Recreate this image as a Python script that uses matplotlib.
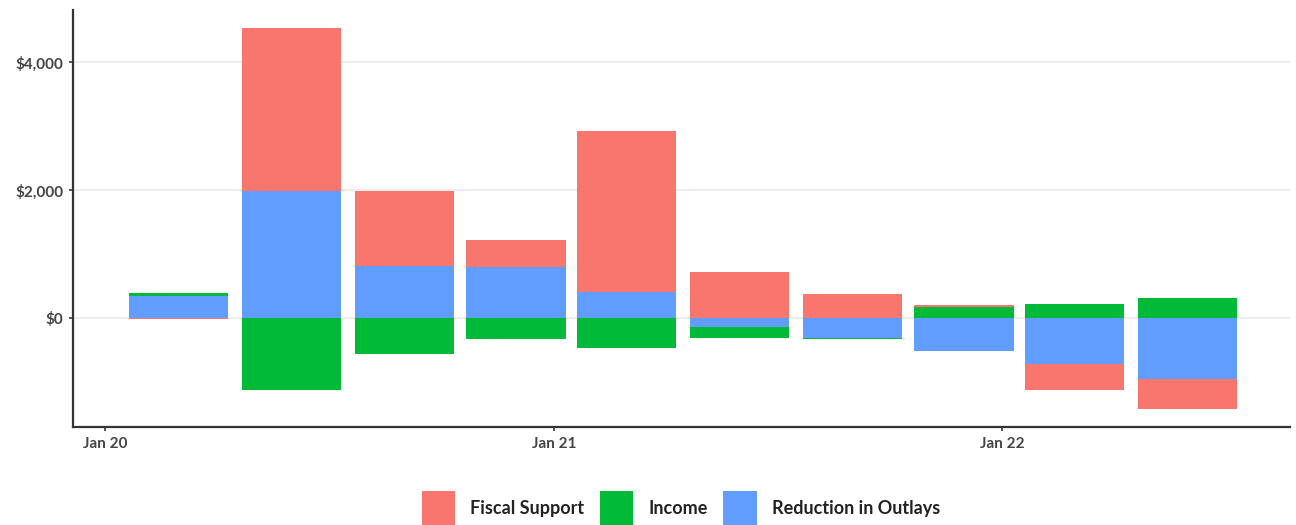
import pandas as pd
import matplotlib
matplotlib.use("Agg")
from matplotlib import pyplot as plt
import matplotlib.dates as mdates
from matplotlib.patches import Patch
from matplotlib.ticker import FuncFormatter

# quarterly bars (values in $ billions)
quarters = ["2020-03-01", "2020-06-01", "2020-09-01", "2020-12-01", "2021-03-01",
            "2021-06-01", "2021-09-01", "2021-12-01", "2022-03-01", "2022-06-01"]
fiscal_support = [-15, 2537, 1172, 417, 2516, 723, 380, 25, -406, -464]
income = [45, -1120, -558, -317, -469, -172, -30, 177, 223, 322]
reduction_outlays = [353, 1994, 822, 802, 411, -136, -300, -516, -714, -948]

series_names = ["Fiscal Support", "Income", "Reduction in Outlays"]
series_colors = ["#F8766D", "#00BA38", "#619CFF"]

df = pd.DataFrame({
    "Fiscal Support": fiscal_support,
    "Income": income,
    "Reduction in Outlays": reduction_outlays,
}, index=pd.to_datetime(quarters))

plt.rcParams['font.family'] = ['Lato', 'DejaVu Sans']

fig = plt.figure(figsize=(12.96, 5.25), dpi=100)
ax = fig.add_axes([0.0563, 0.1867, 0.9387, 0.7943])

x = mdates.date2num(df.index.to_pydatetime())
width = 81

# ggplot-like stacking: last level closest to zero, first level outermost
pos_base = [0.0] * len(df)
neg_base = [0.0] * len(df)
for name, color in zip(reversed(series_names), reversed(series_colors)):
    vals = df[name].tolist()
    bottoms = []
    for i, v in enumerate(vals):
        if v >= 0:
            bottoms.append(pos_base[i])
            pos_base[i] += v
        else:
            bottoms.append(neg_base[i])
            neg_base[i] += v
    ax.bar(x, vals, bottom=bottoms, width=width, color=color, linewidth=0, zorder=3)

ax.set_ylim(-1698, 4817)
ax.set_xlim(mdates.date2num(pd.Timestamp("2019-12-06")), mdates.date2num(pd.Timestamp("2022-08-23")))
ax.set_yticks([0, 2000, 4000])
ax.yaxis.set_major_formatter(FuncFormatter(lambda v, p: f"${v:,.0f}"))
ax.set_xticks(mdates.date2num(pd.to_datetime(["2020-01-01", "2021-01-01", "2022-01-01"]).to_pydatetime()))
ax.set_xticklabels(["Jan 20", "Jan 21", "Jan 22"])

ax.grid(axis='y', color='#EBEBEB', linewidth=1.2, zorder=0)
for s in ["top", "right"]:
    ax.spines[s].set_visible(False)
for s in ["left", "bottom"]:
    ax.spines[s].set_color('#333333')
    ax.spines[s].set_linewidth(1.6)
ax.tick_params(axis='both', length=3, width=1.2, color='#333333', labelsize=11,
               labelcolor='#444444', pad=4)
for lab in ax.get_xticklabels() + ax.get_yticklabels():
    lab.set_fontweight('bold')

handles = [Patch(facecolor=c, edgecolor='none', label=n) for n, c in zip(series_names, series_colors)]
leg = fig.legend(handles=handles, loc='upper center', bbox_to_anchor=(0.5255, 0.088),
                 ncol=3, frameon=False, handlelength=1.85, handleheight=2.5,
                 handletextpad=0.85, columnspacing=0.85, borderpad=0.2,
                 prop={'weight': 'bold', 'size': 13})
for t in leg.get_texts():
    t.set_color('#222222')

fig.savefig("out.png", dpi=100)
